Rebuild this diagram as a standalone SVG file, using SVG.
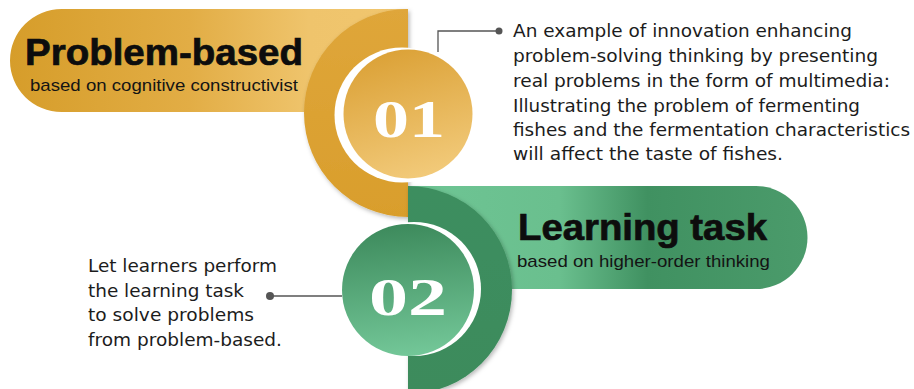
<svg xmlns="http://www.w3.org/2000/svg" width="914" height="389" viewBox="0 0 914 389">
  <defs>
    <linearGradient id="goldBand" x1="10" y1="0" x2="408" y2="0" gradientUnits="userSpaceOnUse">
      <stop offset="0" stop-color="#d69d2a"/>
      <stop offset="0.45" stop-color="#e2ad45"/>
      <stop offset="0.75" stop-color="#efc46c"/>
      <stop offset="1" stop-color="#f1c66e"/>
    </linearGradient>
    <linearGradient id="goldRing" x1="0" y1="0" x2="0" y2="1">
      <stop offset="0" stop-color="#dfa63a"/>
      <stop offset="1" stop-color="#d99e2c"/>
    </linearGradient>
    <linearGradient id="goldDisc" x1="0.3" y1="0" x2="0.6" y2="1">
      <stop offset="0" stop-color="#dba136"/>
      <stop offset="1" stop-color="#f2ca7a"/>
    </linearGradient>
    <linearGradient id="greenBand" x1="408" y1="0" x2="807" y2="0" gradientUnits="userSpaceOnUse">
      <stop offset="0" stop-color="#6ec594"/>
      <stop offset="0.38" stop-color="#6abf8e"/>
      <stop offset="0.6" stop-color="#409161"/>
      <stop offset="1" stop-color="#4b9b6b"/>
    </linearGradient>
    <linearGradient id="greenRing" x1="0" y1="0" x2="0" y2="1">
      <stop offset="0" stop-color="#3e8e5f"/>
      <stop offset="1" stop-color="#3c8b5c"/>
    </linearGradient>
    <linearGradient id="greenDisc" x1="0.4" y1="0" x2="0.5" y2="1">
      <stop offset="0" stop-color="#3d8a5c"/>
      <stop offset="1" stop-color="#73c798"/>
    </linearGradient>
    <filter id="shade" x="-20%" y="-20%" width="140%" height="140%">
      <feDropShadow dx="1.5" dy="2" stdDeviation="2" flood-color="#000" flood-opacity="0.28"/>
    </filter>
    <style>
      .title { font-family: "Liberation Sans", Arial, sans-serif; font-weight: bold; font-size: 36px; fill: #0d0d0d; stroke: #0d0d0d; stroke-width: 0.7; }
      .sub { font-family: "Liberation Sans", Arial, sans-serif; font-size: 17px; fill: #141414; }
      .num { font-family: "Liberation Serif", "Times New Roman", serif; font-weight: bold; font-size: 52px; fill: #ffffff; }
      .body { font-family: "DejaVu Sans", "Liberation Sans", sans-serif; font-size: 17.5px; fill: #1c1c1c; }
      .lead { fill: none; stroke: #555555; stroke-width: 1.3; }
      .dot { fill: #555555; }
    </style>
  </defs>

  <rect width="914" height="389" fill="#ffffff"/>

  <!-- step 01: gold band, half ring and numbered disc -->
  <g id="step-01">
    <path d="M61.5 9 H408 V112 H61.5 A51.5 51.5 0 0 1 61.5 9 Z" fill="url(#goldBand)"/>
    <path d="M408 9 A104 104 0 0 0 408 217 Z" fill="url(#goldRing)" filter="url(#shade)"/>
    <circle cx="402" cy="115" r="67.5" fill="#ffffff"/>
    <circle cx="408" cy="114" r="64.5" fill="url(#goldDisc)"/>
    <text class="title" x="25" y="65" textLength="278" lengthAdjust="spacingAndGlyphs">Problem-based</text>
    <text class="sub" x="30" y="91" textLength="268" lengthAdjust="spacingAndGlyphs">based on cognitive constructivist</text>
    <text class="num" x="373" y="137" textLength="72" lengthAdjust="spacingAndGlyphs">01</text>
  </g>

  <!-- step 02: green band, half ring and numbered disc -->
  <g id="step-02">
    <path d="M408 186 H756 A51.5 51.5 0 0 1 756 289 H408 Z" fill="url(#greenBand)"/>
    <path d="M408 186 A104 104 0 0 1 408 394 Z" fill="url(#greenRing)" filter="url(#shade)"/>
    <circle cx="414" cy="289" r="67" fill="#ffffff"/>
    <circle cx="408" cy="290" r="66" fill="url(#greenDisc)"/>
    <text class="title" x="518" y="240" textLength="249" lengthAdjust="spacingAndGlyphs">Learning task</text>
    <text class="sub" x="517" y="267" textLength="253" lengthAdjust="spacingAndGlyphs">based on higher-order thinking</text>
    <text class="num" x="369" y="315" textLength="78" lengthAdjust="spacingAndGlyphs">02</text>
  </g>

  <!-- description of step 01 -->
  <g id="note-01">
    <text class="body" x="513" y="37" textLength="339" lengthAdjust="spacingAndGlyphs">An example of innovation enhancing</text>
    <text class="body" x="513" y="62" textLength="365" lengthAdjust="spacingAndGlyphs">problem-solving thinking by presenting</text>
    <text class="body" x="513" y="87" textLength="377" lengthAdjust="spacingAndGlyphs">real problems in the form of multimedia:</text>
    <text class="body" x="513" y="112" textLength="347" lengthAdjust="spacingAndGlyphs">Illustrating the problem of fermenting</text>
    <text class="body" x="513" y="136" textLength="397" lengthAdjust="spacingAndGlyphs">fishes and the fermentation characteristics</text>
    <text class="body" x="513" y="160" textLength="270" lengthAdjust="spacingAndGlyphs">will affect the taste of fishes.</text>
  </g>

  <!-- description of step 02 -->
  <g id="note-02">
    <text class="body" x="88" y="272" textLength="189" lengthAdjust="spacingAndGlyphs">Let learners perform</text>
    <text class="body" x="88" y="297" textLength="156" lengthAdjust="spacingAndGlyphs">the learning task</text>
    <text class="body" x="88" y="321" textLength="166" lengthAdjust="spacingAndGlyphs">to solve problems</text>
    <text class="body" x="88" y="346" textLength="194" lengthAdjust="spacingAndGlyphs">from problem-based.</text>
  </g>

  <!-- leader lines from the discs to their notes -->
  <g id="connectors">
    <path class="lead" d="M438 52 V31 H498"/>
    <circle class="dot" cx="499" cy="31" r="3.5"/>
    <path class="lead" d="M342 296 H270"/>
    <circle class="dot" cx="270" cy="296" r="4"/>
  </g>
</svg>
